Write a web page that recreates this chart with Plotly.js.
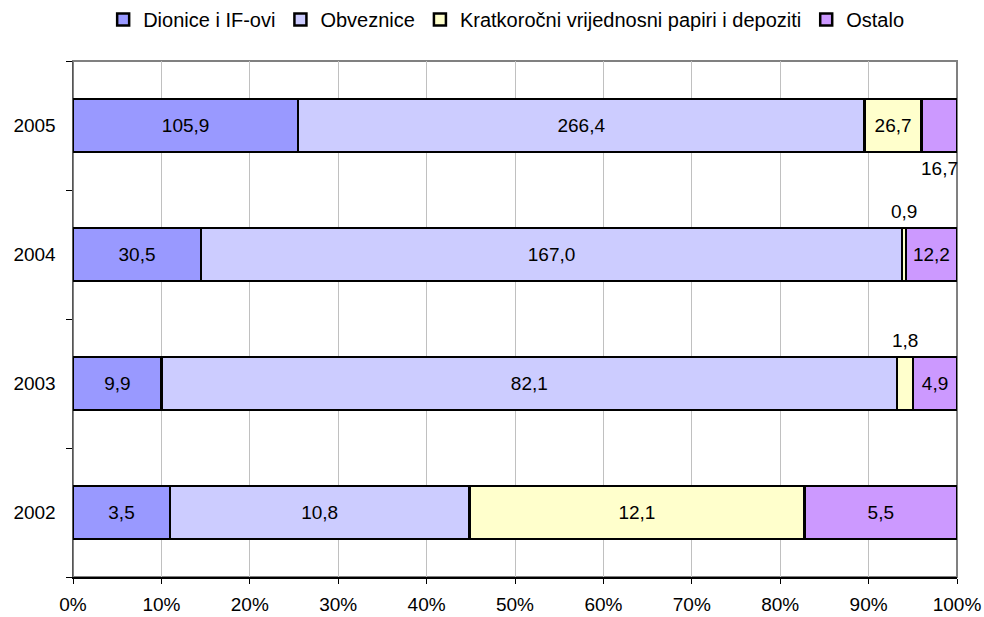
<!DOCTYPE html>
<html>
<head>
<meta charset="utf-8">
<script src="https://cdn.plot.ly/plotly-3.0.1.min.js"></script>
<style>
  html, body { margin: 0; padding: 0; background: #fff; }
  #graph { width: 984px; height: 617px; }
</style>
</head>
<body>
<div id="graph"></div>
<script>
  var godine = ['2002', '2003', '2004', '2005']; // kategorije

  var dionice = [3.5, 9.9, 30.5, 105.9];
  var obveznice = [10.8, 82.1, 167.0, 266.4];
  var kratkorocni = [12.1, 1.8, 0.9, 26.7];
  var ostalo = [5.5, 4.9, 12.2, 16.7];

  var nazivi = ['Dionice i IF-ovi', 'Obveznice', 'Kratkoročni vrijednosni papiri i depoziti', 'Ostalo'];
  var boje = ['#9999FF', '#CCCCFF', '#FFFFCC', '#CC99FF'];

  // mali segmenti: oznaka ide iznad (+1) ili ispod (-1) stupca
  var vanjske = { '3,2005': -1, '2,2004': 1, '2,2003': 1 };

  function fmt(v) { return v.toFixed(1).replace('.', ','); }

  var serije = [dionice, obveznice, kratkorocni, ostalo];
  var data = [];
  var annotations = [];

  for (var s = 0; s < serije.length; s++) {
    var tekst = [];
    for (var i = 0; i < godine.length; i++) {
      var kljuc = s + ',' + godine[i];
      if (vanjske[kljuc]) {
        tekst.push('');
        // sredina segmenta u postocima
        var ukupno = 0, prije = 0;
        for (var k = 0; k < serije.length; k++) {
          ukupno += serije[k][i];
          if (k < s) prije += serije[k][i];
        }
        annotations.push({
          x: (prije + serije[s][i] / 2) / ukupno * 100,
          y: i, // indeks kategorije
          xref: 'x', yref: 'y',
          text: fmt(serije[s][i]),
          showarrow: false,
          yshift: vanjske[kljuc] * 43,
          font: { size: 19, color: '#000' }
        });
      } else {
        tekst.push(fmt(serije[s][i]));
      }
    }
    data.push({
      type: 'bar',
      orientation: 'h',
      name: nazivi[s],
      y: godine,
      x: serije[s],
      text: tekst,
      textposition: 'inside',
      insidetextanchor: 'middle',
      textangle: 0,
      constraintext: 'none',
      insidetextfont: { size: 19, color: '#000' },
      hoverinfo: 'none',
      marker: { color: boje[s], line: { color: '#000', width: 2.5 } }
    });
  }

  var layout = {
    barmode: 'stack',
    barnorm: 'percent',
    bargap: 0.59,
    width: 984,
    height: 617,
    margin: { l: 73, r: 27, t: 61, b: 40 },
    font: { family: 'Liberation Sans, Arial, sans-serif', size: 19, color: '#000' },
    paper_bgcolor: '#fff',
    plot_bgcolor: '#fff',
    showlegend: true,
    legend: {
      orientation: 'h',
      x: 0.49, xanchor: 'center',
      y: 1.0, yanchor: 'top', yref: 'container',
      font: { size: 20 },
      itemwidth: 30,
      tracegroupgap: 0,
      traceorder: 'normal'
    },
    xaxis: {
      range: [0, 100],
      dtick: 10,
      ticksuffix: '%',
      showgrid: true,
      gridcolor: '#c0c0c0',
      gridwidth: 1,
      zeroline: false,
      showline: true,
      linecolor: '#000',
      linewidth: 1.5,
      ticks: 'outside',
      ticklen: 5,
      tickcolor: '#000',
      ticklabelstandoff: 5,
      fixedrange: true
    },
    yaxis: {
      type: 'category',
      categoryorder: 'array',
      categoryarray: godine,
      range: [-0.5, 3.5],
      autorange: false,
      showgrid: false,
      zeroline: false,
      showline: true,
      linecolor: '#555',
      linewidth: 1.5,
      ticks: 'outside',
      tickson: 'boundaries',
      ticklen: 6,
      tickcolor: '#000',
      ticklabelstandoff: 12,
      fixedrange: true
    },
    shapes: [{
      type: 'rect', xref: 'paper', yref: 'paper',
      x0: 0, x1: 1, y0: 0, y1: 1,
      line: { color: '#808080', width: 2 },
      layer: 'below'
    }],
    annotations: annotations
  };

  Plotly.newPlot('graph', data, layout, { displayModeBar: false, staticPlot: true });
</script>
</body>
</html>
